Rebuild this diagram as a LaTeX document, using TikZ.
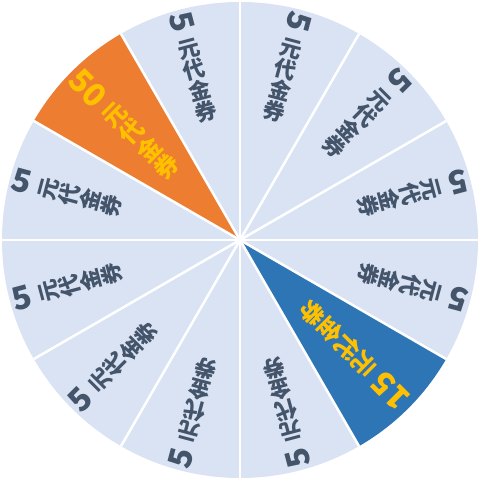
\documentclass[tikz,border=0pt]{standalone}
\usepackage{fontspec}
\newfontfamily\cjk{Noto Sans CJK SC}
\definecolor{wheelgray}{HTML}{DAE3F3}
\definecolor{wheeltext}{HTML}{44546A}
\definecolor{wheelorange}{HTML}{ED7D31}
\definecolor{wheelblue}{HTML}{2E75B6}
\definecolor{wheelyellow}{HTML}{FFC000}
\tikzset{
  numtxt/.style={inner sep=0pt, font=\cjk\bfseries\fontsize{32}{32}\selectfont},
  chtxt/.style={inner sep=0pt, align=center, font=\cjk\bfseries\fontsize{22}{22}\selectfont},
  bigchtxt/.style={inner sep=0pt, align=center, font=\cjk\bfseries\fontsize{24}{24.5}\selectfont},
  sep/.style={draw=white, line width=2.5bp}
}
\begin{document}
\begin{tikzpicture}[x=1bp,y=1bp]
\useasboundingbox (-240,-240) rectangle (240,240);
\def\R{238}
\coordinate (O) at (0,0);
% base disc
\fill[wheelgray] (O) circle[radius=\R];
% highlighted sectors
\fill[wheelorange] (O) -- (120:\R) arc[start angle=120, end angle=150, radius=\R] -- cycle;
\fill[wheelblue] (O) -- (-60:\R) arc[start angle=-60, end angle=-30, radius=\R] -- cycle;
% separators
\foreach \b [count=\k] in {0,30,...,330} {
  \coordinate (e\k) at (\b:\R);
  \draw[sep] (O) -- (e\k);
}
% gray sector labels
\foreach \a [count=\i] in {75,45,15,-15,-75,-105,-135,-165,165,105} {
  \node[numtxt, text=wheeltext, rotate=\a-180] (n\i) at (\a:226) {5};
  \node[chtxt, text=wheeltext, rotate=\a-90] (c\i) at (\a:165) {元\\代\\金\\券};
}
% orange sector
\node[numtxt, text=wheelyellow, rotate=-45] (n50) at (135:215) {50};
\node[bigchtxt, text=wheelyellow, rotate=45] (o1) at (135:140) {元\\代\\金\\券};
% blue sector
\node[numtxt, text=wheelyellow, rotate=135] (n15) at (-45:213) {15};
\node[bigchtxt, text=wheelyellow, rotate=-135] (b1) at (-45:139) {元\\代\\金\\券};
\end{tikzpicture}
\end{document}
